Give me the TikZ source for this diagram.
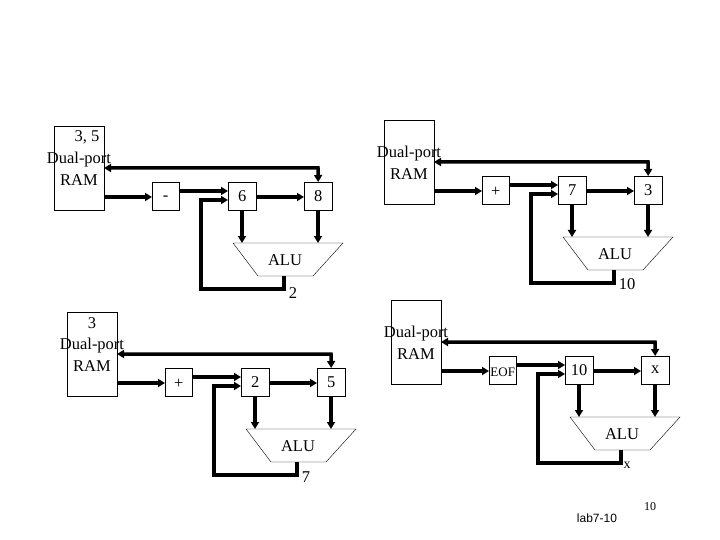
\documentclass[tikz,border=0pt]{standalone}
\usepackage{fontspec}
\setmainfont{Liberation Serif}
\newfontfamily\arialfont{Liberation Sans}
\usetikzlibrary{arrows.meta}
\tikzset{
  x=1pt,y=-1pt,
  bx/.style={draw,thin,fill=white,inner sep=0pt,anchor=north west},
  lbl/.style={inner sep=0pt,font=\fontsize{16.5}{18}\selectfont},
  bus/.style={line width=3.5pt,-{Triangle[length=7pt,width=8pt]}},
  bus2/.style={line width=3.5pt,{Triangle[length=7pt,width=8pt]}-{Triangle[length=7pt,width=8pt]}},
}
\newcommand\block[8]{%
\begin{scope}[shift={(#2,#3)}]
  \node[bx,minimum width=50pt,minimum height=84pt] (#1ram) at (0,0) {};
  \node[lbl] (#1top) at (#4) {#5};
  \node[lbl] (#1dp) at (25,34) {Dual-port};
  \node[lbl] (#1rl) at (25,54) {RAM};
  \node[bx,minimum width=27pt,minimum height=28pt] (#1op) at (98,56) {};
  \node[lbl] (#1opl) at ([yshift=-2pt]#1op.center) {#6};
  \node[bx,minimum width=28pt,minimum height=28pt] (#1a) at (174,56) {};
  \node[lbl] at (#1a.center) {#7};
  \node[bx,minimum width=28pt,minimum height=28pt] (#1b) at (250,56) {};
  \node[lbl] at (#1b.center) {#8};
  \coordinate (#1t1) at (179,117); \coordinate (#1t2) at (289,117);
  \coordinate (#1t3) at (259,150); \coordinate (#1t4) at (204,150);
  \draw[thin,fill=white] (#1t1) -- (#1t2) -- (#1t3) -- (#1t4) -- cycle;
  \node[lbl] (#1alu) at (231,134) {ALU};
  \coordinate (#1out) at (230,150);
  \draw[bus2] (50,42) -- (264,42) -- (#1b.north);
  \draw[bus] (50,71) -- (#1op.west |- 0,71);
  \draw[bus] (125,65) -- (174,65);
  \draw[bus] (202,71) -- (250,71);
  \draw[bus] (188,84) -- (188,117);
  \draw[bus] (264,84) -- (264,117);
  \draw[bus] (#1out) -- (230,163) -- (147,163) -- (147,74) -- (174,74);
\end{scope}}
\begin{document}
\begin{tikzpicture}
\useasboundingbox (0,0) rectangle (720,540);
\fill[white] (0,0) rectangle (720,540);
\block{tl}{54}{126}{33,11}{3, 5}{-}{6}{8}
\node[lbl] (tlo) at (293,293) {2};
\block{tr}{384}{120}{25,11}{}{+}{7}{3}
\node[lbl] (tro) at (627,284) {10};
\block{bl}{67}{312}{25,11}{3}{+}{2}{5}
\node[lbl] (blo) at (306,477) {7};
\block{br}{391}{300}{25,11}{}{\fontsize{13}{14}\selectfont EOF}{10}{x}
\node[lbl,font=\fontsize{14}{16}\selectfont] (bro) at (627,465) {x};
\node[inner sep=0pt,font=\arialfont\fontsize{12}{14}\selectfont] (lab) at (597,518) {lab7-10};
\node[lbl,font=\fontsize{12}{14}\selectfont] (pg) at (650,507) {10};
\end{tikzpicture}
\end{document}
